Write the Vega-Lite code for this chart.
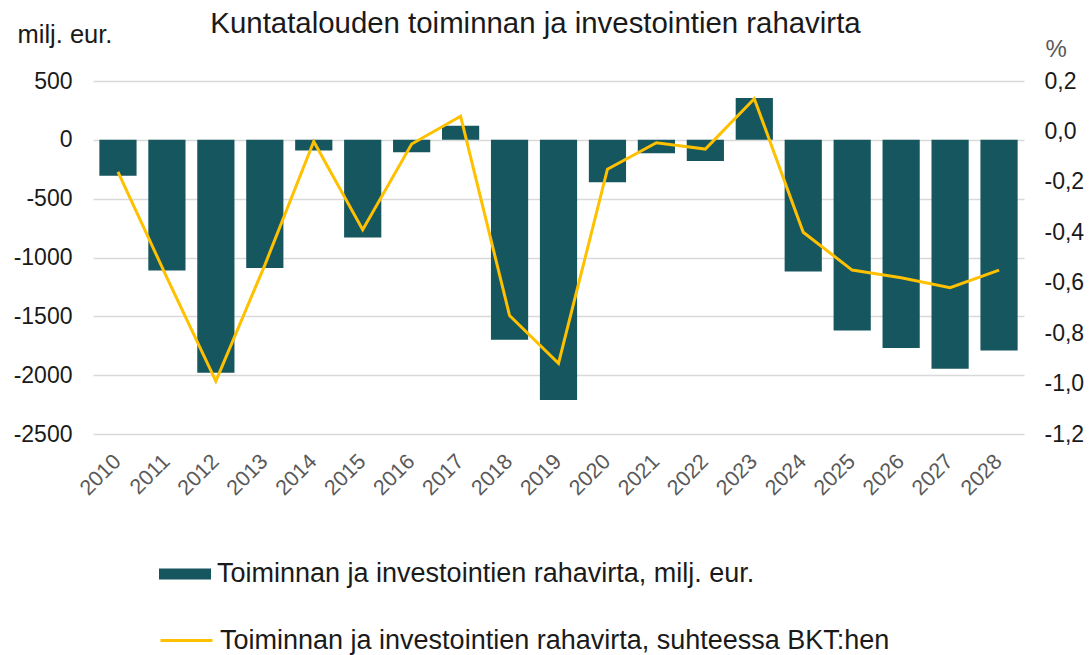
{
  "$schema": "https://vega.github.io/schema/vega-lite/v6.json",
  "autosize": {"type": "none"},
  "width": 931,
  "height": 353,
  "padding": {"left": 93, "top": 81, "right": 67, "bottom": 221},
  "background": "white",
  "title": {
    "text": "Kuntatalouden toiminnan ja investointien rahavirta",
    "font": "Liberation Sans",
    "fontSize": 29.4,
    "fontWeight": "normal",
    "color": "#1a1a1a",
    "anchor": "middle",
    "frame": "group",
    "dx": -23,
    "baseline": "alphabetic",
    "offset": 10,
    "dy": 50
  },
  "config": {
    "view": {"stroke": null},
    "font": "Liberation Sans",
    "legend": {
      "labelFont": "Liberation Sans",
      "labelFontSize": 27,
      "labelColor": "#1a1a1a",
      "labelLimit": 0,
      "labelOffset": 6,
      "padding": 0
    }
  },
  "data": {
    "values": [
      {"year": "2010", "val": -305, "pct": -0.16},
      {"year": "2011", "val": -1110, "pct": -0.58},
      {"year": "2012", "val": -1980, "pct": -0.99},
      {"year": "2013", "val": -1090, "pct": -0.53},
      {"year": "2014", "val": -90, "pct": -0.04},
      {"year": "2015", "val": -830, "pct": -0.39},
      {"year": "2016", "val": -105, "pct": -0.05},
      {"year": "2017", "val": 120, "pct": 0.06},
      {"year": "2018", "val": -1700, "pct": -0.73},
      {"year": "2019", "val": -2210, "pct": -0.92},
      {"year": "2020", "val": -360, "pct": -0.15},
      {"year": "2021", "val": -115, "pct": -0.045},
      {"year": "2022", "val": -180, "pct": -0.07},
      {"year": "2023", "val": 355, "pct": 0.13},
      {"year": "2024", "val": -1120, "pct": -0.40},
      {"year": "2025", "val": -1620, "pct": -0.55},
      {"year": "2026", "val": -1770, "pct": -0.58},
      {"year": "2027", "val": -1945, "pct": -0.62},
      {"year": "2028", "val": -1790, "pct": -0.55}
    ]
  },
  "encoding": {
    "x": {
      "field": "year",
      "type": "ordinal",
      "scale": {"paddingInner": 0.24, "paddingOuter": 0.13},
      "axis": {
        "title": null,
        "labelAngle": -45,
        "labelAlign": "right",
        "labelBaseline": "middle",
        "labelPadding": 24,
        "labelFont": "Liberation Sans",
        "labelFontSize": 21.5,
        "labelColor": "#595959",
        "ticks": false,
        "domain": false,
        "grid": false
      }
    }
  },
  "layer": [
    {
      "mark": {"type": "bar"},
      "encoding": {
        "y": {
          "field": "val",
          "type": "quantitative",
          "scale": {"domain": [-2500, 500], "nice": false},
          "axis": {
            "orient": "left",
            "values": [-2500, -2000, -1500, -1000, -500, 0, 500],
            "labelExpr": "replace(format(datum.value, 'd'), '\u2212', '-')",
            "labelFont": "Liberation Sans",
            "labelFontSize": 23,
            "labelColor": "#1a1a1a",
            "labelPadding": 21,
            "ticks": false,
            "domain": false,
            "grid": true,
            "gridColor": "#d9d9d9",
            "gridWidth": 1.5,
            "title": "milj. eur.",
            "titleFont": "Liberation Sans",
            "titleFontSize": 25.5,
            "titleFontWeight": "normal",
            "titleColor": "#1a1a1a",
            "titleAngle": 0,
            "titleAlign": "left",
            "titleBaseline": "alphabetic",
            "titleX": -76,
            "titleY": -39
          }
        },
        "fill": {
          "datum": "Toiminnan ja investointien rahavirta, milj. eur.",
          "type": "nominal",
          "scale": {"range": ["#16565e"]},
          "legend": {
            "title": null,
            "orient": "none",
            "legendX": 66,
            "legendY": 467,
            "symbolType": "M-1,-0.2115H1V0.2115H-1Z",
            "symbolSize": 2704,
            "symbolStrokeWidth": 0
          }
        }
      }
    },
    {
      "mark": {"type": "line", "strokeWidth": 3},
      "encoding": {
        "y": {
          "field": "pct",
          "type": "quantitative",
          "scale": {"domain": [-1.2, 0.2], "nice": false, "zero": false},
          "axis": {
            "orient": "right",
            "values": [-1.2, -1.0, -0.8, -0.6, -0.4, -0.2, 0, 0.2],
            "labelExpr": "replace(replace(format(datum.value, '.1f'), '.', ','), '\u2212', '-')",
            "labelFont": "Liberation Sans",
            "labelFontSize": 23,
            "labelColor": "#1a1a1a",
            "labelPadding": 20,
            "ticks": false,
            "domain": false,
            "grid": false,
            "title": "%",
            "titleFont": "Liberation Sans",
            "titleFontSize": 24,
            "titleFontWeight": "normal",
            "titleColor": "#595959",
            "titleAngle": 0,
            "titleAlign": "left",
            "titleBaseline": "alphabetic",
            "titleX": 21,
            "titleY": -25
          }
        },
        "stroke": {
          "datum": "Toiminnan ja investointien rahavirta, suhteessa BKT:hen",
          "type": "nominal",
          "scale": {"range": ["#ffc000"]},
          "legend": {
            "title": null,
            "orient": "none",
            "legendX": 66,
            "legendY": 532,
            "symbolType": "M-1,0H1",
            "symbolSize": 2704,
            "symbolStrokeWidth": 3
          }
        }
      }
    }
  ],
  "resolve": {"scale": {"y": "independent"}}
}
